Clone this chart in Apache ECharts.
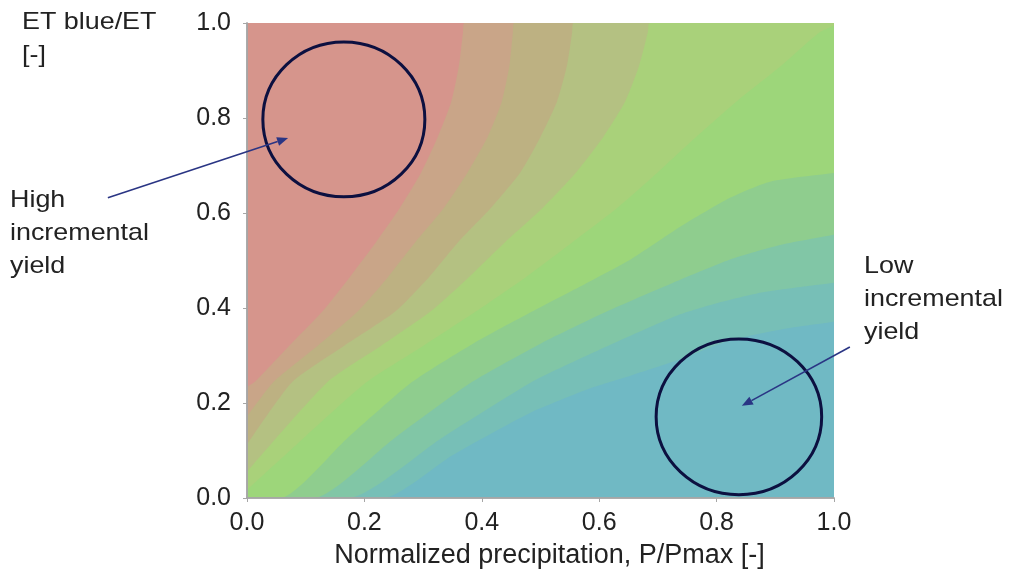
<!DOCTYPE html>
<html>
<head>
<meta charset="utf-8">
<script src="https://cdn.jsdelivr.net/npm/echarts@6/dist/echarts.min.js"></script>
<style>
  html, body { margin: 0; padding: 0; background: #fff; }
  #chart { width: 1009px; height: 576px; }
</style>
</head>
<body>
<div id="chart"></div>
<script>
// axis ticks
const xTicks = [0, 0.2, 0.4, 0.6, 0.8, 1.0]
const yTicks = [0, 0.2, 0.4, 0.6, 0.8, 1.0]

// contour band boundaries, [P/Pmax, ETblue/ET]
const redTan = [[0, 0.234], [0.013, 0.244], [0.07, 0.318], [0.128, 0.392], [0.175, 0.465], [0.220, 0.539], [0.26, 0.61], [0.297, 0.686], [0.325, 0.76], [0.348, 0.834], [0.361, 0.91], [0.368, 0.981], [0.37, 1], [1, 1]]
const tanOlive = [[0, 0.171], [0.045, 0.244], [0.12, 0.32], [0.188, 0.392], [0.24, 0.465], [0.287, 0.539], [0.335, 0.61], [0.376, 0.686], [0.41, 0.76], [0.434, 0.834], [0.447, 0.91], [0.453, 0.981], [0.455, 1], [1, 1]]
const oliveOg = [[0, 0.112], [0.077, 0.244], [0.165, 0.32], [0.252, 0.392], [0.31, 0.465], [0.360, 0.539], [0.415, 0.61], [0.466, 0.686], [0.5, 0.76], [0.528, 0.834], [0.545, 0.91], [0.554, 0.981], [0.556, 1], [1, 1]]
const ogYg = [[0, 0.055], [0.137, 0.244], [0.228, 0.32], [0.312, 0.392], [0.378, 0.465], [0.440, 0.539], [0.503, 0.61], [0.561, 0.686], [0.607, 0.76], [0.644, 0.834], [0.668, 0.91], [0.683, 0.981], [0.686, 1], [1, 1]]
const ygGreen = [[0, 0.017], [0.1, 0.13], [0.204, 0.244], [0.3, 0.32], [0.389, 0.392], [0.475, 0.465], [0.555, 0.539], [0.63, 0.61], [0.700, 0.686], [0.765, 0.76], [0.835, 0.836], [0.91, 0.91], [0.975, 0.98], [1, 0.995]]
const greenGt = [[0, 0], [0.056, 0], [0.17, 0.125], [0.281, 0.244], [0.385, 0.325], [0.485, 0.392], [0.575, 0.45], [0.652, 0.501], [0.738, 0.571], [0.823, 0.632], [0.891, 0.666], [1, 0.684]]
const gtTeal = [[0, 0], [0.113, 0], [0.25, 0.125], [0.383, 0.244], [0.5, 0.325], [0.612, 0.392], [0.72, 0.45], [0.823, 0.502], [0.91, 0.533], [1, 0.554]]
const tealTb = [[0, 0], [0.172, 0], [0.33, 0.125], [0.485, 0.244], [0.567, 0.293], [0.65, 0.34], [0.734, 0.385], [0.8, 0.41], [0.879, 0.433], [1, 0.453]]
const tbBlue = [[0, 0], [0.232, 0], [0.35, 0.09], [0.482, 0.179], [0.587, 0.232], [0.652, 0.257], [0.74, 0.293], [0.823, 0.332], [0.91, 0.355], [1, 0.371]]

// fill colour above each boundary (drawn back to front), base colour is the blue
const baseColor = '#70b9c4'
const boundaries = [tbBlue, tealTb, gtTeal, greenGt, ygGreen, ogYg, oliveOg, tanOlive, redTan]
const bandColors = ['#77bfb7', '#81c6a6', '#8fcd8e', '#9dd67a', '#a9d17a', '#b4c182', '#bdb182', '#c9a588', '#d6958c']

// annotation marks in data units: ellipses [cx, cy, rx, ry] and arrows [x0, y0, x1, y1]
const ellipses = [[0.165, 0.797, 0.138, 0.163], [0.838, 0.171, 0.141, 0.164]]
const arrows = [[-0.237, 0.632, 0.070, 0.758], [1.027, 0.318, 0.843, 0.194]]

const chart = echarts.init(document.getElementById('chart'))

const font = '"Liberation Sans", Arial, sans-serif'
const axisColor = '#a6a6a6'

const bandSeries = boundaries.map((pts, i) => ({
  type: 'line',
  data: pts,
  showSymbol: false,
  smooth: 0.2,
  lineStyle: { width: 0 },
  areaStyle: { color: bandColors[i], opacity: 1, origin: 'end' },
  silent: true,
  z: 2,
}))

function renderNotes(params, api) {
  const children = []
  ellipses.forEach(([cx, cy, rx, ry]) => {
    const c = api.coord([cx, cy])
    const p = api.coord([cx + rx, cy + ry])
    children.push({
      type: 'ellipse',
      shape: { cx: c[0], cy: c[1], rx: p[0] - c[0], ry: c[1] - p[1] },
      style: { fill: null, stroke: '#0c1040', lineWidth: 3 },
    })
  })
  arrows.forEach(([x0, y0, x1, y1]) => {
    const a = api.coord([x0, y0])
    const b = api.coord([x1, y1])
    const dx = b[0] - a[0]
    const dy = b[1] - a[1]
    const len = Math.sqrt(dx * dx + dy * dy)
    const ux = dx / len
    const uy = dy / len
    const hl = 11
    const hw = 4.5
    const bx = b[0] - ux * hl
    const by = b[1] - uy * hl
    children.push({
      type: 'line',
      shape: { x1: a[0], y1: a[1], x2: bx, y2: by },
      style: { stroke: '#2a3584', lineWidth: 1.6 },
    })
    children.push({
      type: 'polygon',
      shape: { points: [[b[0], b[1]], [bx - uy * hw, by + ux * hw], [bx + uy * hw, by - ux * hw]] },
      style: { fill: '#2a3584' },
    })
  })
  return { type: 'group', children }
}

// annotation text is a bit wider than tall in the picture
function noteText(text, x, y) {
  return {
    type: 'text',
    x,
    y,
    scaleX: 1.12,
    style: { text, fontSize: 24, lineHeight: 33, fill: '#222', fontFamily: font, verticalAlign: 'top' },
  }
}

chart.setOption({
  animation: false,
  backgroundColor: '#fff',
  grid: {
    left: 247,
    right: 175,
    top: 23,
    bottom: 78,
    show: true,
    backgroundColor: baseColor,
    borderWidth: 0,
  },
  xAxis: [
    {
      type: 'value',
      min: 0,
      max: 1,
      interval: 0.2,
      name: 'Normalized precipitation, P/Pmax [-]',
      nameLocation: 'middle',
      nameGap: 44,
      nameTextStyle: { fontSize: 27, color: '#222', fontFamily: font, padding: [0, 0, 0, 18] },
      axisLine: { show: true, lineStyle: { color: axisColor, width: 1.5 } },
      axisTick: { show: true, length: 4, lineStyle: { color: axisColor } },
      axisLabel: {
        fontSize: 25,
        color: '#222',
        fontFamily: font,
        margin: 13,
        formatter: v => (xTicks.includes(v) ? v.toFixed(1) : ''),
      },
      splitLine: { show: false },
      z: 10,
    },
    {
      type: 'value',
      position: 'top',
      min: 0,
      max: 1,
      axisLine: { show: true, lineStyle: { color: axisColor, width: 1.5 } },
      axisTick: { show: false },
      axisLabel: { show: false },
      splitLine: { show: false },
      z: 10,
    },
  ],
  yAxis: [
    {
      type: 'value',
      min: 0,
      max: 1,
      interval: 0.2,
      axisLine: { show: true, lineStyle: { color: axisColor, width: 1.5 } },
      axisTick: { show: true, length: 4, lineStyle: { color: axisColor } },
      axisLabel: {
        fontSize: 25,
        color: '#222',
        fontFamily: font,
        margin: 16,
        formatter: v => (yTicks.includes(v) ? v.toFixed(1) : ''),
      },
      splitLine: { show: false },
      z: 10,
    },
    {
      type: 'value',
      position: 'right',
      min: 0,
      max: 1,
      axisLine: { show: true, lineStyle: { color: axisColor, width: 1.5 } },
      axisTick: { show: false },
      axisLabel: { show: false },
      splitLine: { show: false },
      z: 10,
    },
  ],
  series: [
    ...bandSeries,
    {
      type: 'custom',
      renderItem: renderNotes,
      data: [[0.5, 0.5]],
      clip: false,
      silent: true,
      z: 20,
    },
  ],
  graphic: [
    noteText('ET blue/ET\n[-]', 22, 6),
    noteText('High\nincremental\nyield', 10, 184),
    noteText('Low\nincremental\nyield', 864, 250),
  ],
})
</script>
</body>
</html>
